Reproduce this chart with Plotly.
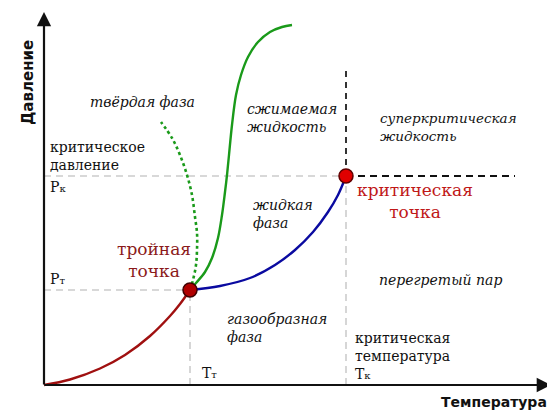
import plotly.graph_objects as go

# ---- data (T = temperature units, P = pressure units) ----
T_triple, P_triple = 146, 95
T_crit, P_crit = 302, 209

sub_T = [0, 26, 56, 81, 106, 126, 136, 146]
sub_P = [0, 5.5, 16.5, 30, 49, 69, 81, 95]

vap_T = [146, 176, 206, 231, 251, 269, 284, 294, 302]
vap_P = [95, 99, 107, 120, 135, 153, 173, 190, 209]

melt_T = [146, 152, 161, 168, 174, 178, 181, 183, 185, 188, 192, 197, 204, 214, 226, 238, 248]
melt_P = [95, 102, 113, 127, 147, 170, 193, 210, 230, 260, 290, 310, 328, 343, 353, 358, 360]

anom_T = [146, 149, 152, 153, 153, 151, 148, 143, 136, 128, 117]
anom_P = [95, 105, 120, 135, 152, 168, 190, 210, 230, 247, 263]

T_max, P_max = 507, 373
Pk_dash_end = 471
Tk_dash_top = 317

fig = go.Figure()

LIGHT = "#cccccc"
# light gray guide lines
for xs, ys in [([0, T_triple], [P_triple, P_triple]),
               ([0, T_crit], [P_crit, P_crit]),
               ([T_triple, T_triple], [0, P_triple]),
               ([T_crit, T_crit], [0, P_crit])]:
    fig.add_trace(go.Scatter(x=xs, y=ys, mode="lines",
                             line=dict(color=LIGHT, width=1.6, dash="7px,5px")))
# black dashed lines
fig.add_trace(go.Scatter(x=[T_crit, Pk_dash_end], y=[P_crit, P_crit], mode="lines",
                         line=dict(color="#111111", width=2, dash="7px,5px")))
fig.add_trace(go.Scatter(x=[T_crit, T_crit], y=[P_crit, Tk_dash_top], mode="lines",
                         line=dict(color="#333333", width=2, dash="6px,5px")))

# curves
fig.add_trace(go.Scatter(x=sub_T, y=sub_P, mode="lines",
                         line=dict(color="#a01010", width=2.4, shape="spline")))
fig.add_trace(go.Scatter(x=vap_T, y=vap_P, mode="lines",
                         line=dict(color="#0a0aa0", width=2.4, shape="spline")))
fig.add_trace(go.Scatter(x=melt_T, y=melt_P, mode="lines",
                         line=dict(color="#1a9a1a", width=2.4, shape="spline")))
fig.add_trace(go.Scatter(x=anom_T, y=anom_P, mode="lines",
                         line=dict(color="#1a9a1a", width=2.6, dash="3px,3px", shape="spline")))

# points
fig.add_trace(go.Scatter(x=[T_triple], y=[P_triple], mode="markers",
                         marker=dict(size=14, color="#b00000", line=dict(color="#400000", width=1.5))))
fig.add_trace(go.Scatter(x=[T_crit], y=[P_crit], mode="markers",
                         marker=dict(size=14, color="#e00000", line=dict(color="#600000", width=1.5))))

# axes arrows
fig.add_annotation(x=0, y=P_max, ax=0, ay=-1, axref="x", ayref="y", xref="x", yref="y",
                   text="", showarrow=True, arrowhead=2, arrowsize=1.3, arrowwidth=2.2, arrowcolor="#111111")
fig.add_annotation(x=T_max, y=0, ax=-1, ay=0, axref="x", ayref="y", xref="x", yref="y",
                   text="", showarrow=True, arrowhead=2, arrowsize=1.3, arrowwidth=2.2, arrowcolor="#111111")

SERIF = "DejaVu Serif, Liberation Serif, serif"
SANS = "DejaVu Sans, Liberation Sans, sans-serif"

def txt(x, y, s, size=14, color="#111111", italic=False, xanchor="left", align="left",
        family=SERIF, bold=False, angle=0):
    fig.add_annotation(x=x, y=y, text=s, showarrow=False, xanchor=xanchor, yanchor="middle",
                       align=align, textangle=angle,
                       font=dict(family=family, size=size, color=color,
                                 style="italic" if italic else "normal",
                                 weight="bold" if bold else "normal"))

txt(-16, 302, "Давление", size=15, family=SANS, bold=True, xanchor="center", angle=-90)
txt(505, -17, "Температура", size=14, family=SANS, bold=True, xanchor="right")

txt(98, 283, "твёрдая фаза", italic=True, xanchor="center")
txt(201, 267.5, "сжимаемая<br>жидкость", italic=True)
txt(334, 258, "суперкритическая<br>жидкость", size=13.5, italic=True)
txt(207, 171.5, "жидкая<br>фаза", italic=True)
txt(181, 57, "газообразная<br>фаза", italic=True)
txt(396, 105, "перегретый пар", italic=True, xanchor="center")

txt(309, 29, "критическая<br>температура<br>T<span style='font-size:10px'>к</span>")
txt(4, 229, "критическое<br>давление")
txt(4, 198, "P<span style='font-size:10px'>к</span>")
txt(4, 106, "P<span style='font-size:10px'>т</span>")
txt(156, 12, "T<span style='font-size:10px'>т</span>")

txt(110, 125, "тройная<br>точка", size=17, color="#8b1a1a", xanchor="center", align="center")
txt(371, 184, "критическая<br>точка", size=17, color="#c01818", xanchor="center", align="center")

# page has an 8px body margin, so the figure is drawn 8px smaller and ranges start 8px later
fig.update_layout(
    width=547, height=403,
    margin=dict(l=0, r=0, t=0, b=0),
    paper_bgcolor="white", plot_bgcolor="white",
    showlegend=False,
    xaxis=dict(range=[-36, 511], visible=False, fixedrange=True),
    yaxis=dict(range=[-26, 377], visible=False, fixedrange=True),
)

fig.write_html("out.html")
